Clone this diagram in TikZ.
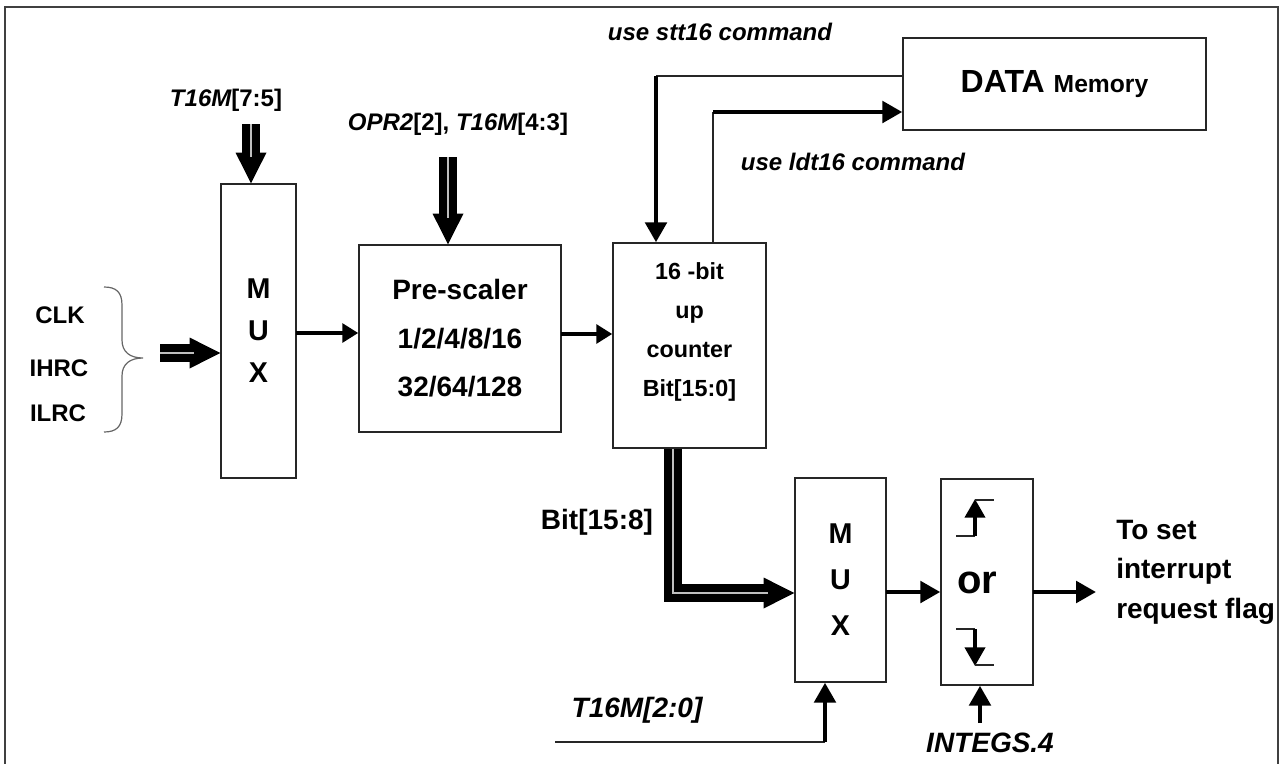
\documentclass[tikz,border=0pt]{standalone}
\usepackage{fontspec}
\setmainfont{Liberation Sans}
\usetikzlibrary{arrows.meta}
\begin{document}
\begin{tikzpicture}[x=0.75pt,y=-0.75pt,
  box/.style={draw=black!85, line width=1.1pt, rectangle, inner sep=0pt},
  lbl/.style={inner sep=0pt, font=\bfseries\fontsize{18}{20}\selectfont},
  biglbl/.style={inner sep=0pt, font=\bfseries\fontsize{21}{24}\selectfont},
  thinln/.style={draw=black!85, line width=1.1pt},
  thickarr/.style={line width=3.4pt, -{Triangle[length=15pt,width=16pt]}},
  smallarr/.style={line width=3.4pt, -{Triangle[length=12pt,width=14pt]}},
  dblshaft/.style={line width=6pt, double=black!25, double distance=1.6pt, shorten >=20pt, line join=miter},
  dbltip/.style={line width=1pt, -{Triangle[length=23pt,width=23pt]}},
]
\useasboundingbox (0,0) rectangle (1282,764);
% frame
\draw[line width=1.5pt, draw=black!75] (5,770) -- (5,7) -- (1278,7) -- (1278,770);

% boxes
\node[box, minimum width=56.25pt, minimum height=220.5pt, align=center,
      font=\bfseries\fontsize{21.5}{31.5}\selectfont] (mux1) at (258.5,331) {M\\U\\X};
\node[box, minimum width=151.5pt, minimum height=140.25pt, align=center,
      font=\bfseries\fontsize{21}{36.4}\selectfont] (pre) at (460,338.5) {Pre-scaler\\1/2/4/8/16\\32/64/128};
\node[box, minimum width=114.75pt, minimum height=153.75pt] (ctr) at (689.5,345.5) {};
\node[inner sep=0pt, align=center, font=\bfseries\fontsize{17.5}{29.25}\selectfont] (ctrtxt) at (689.5,332) {16 -bit\\up\\counter\\Bit[15:0]};
\node[box, minimum width=227.25pt, minimum height=69pt] (data) at (1054.5,84)
  {\bfseries\fontsize{24}{26}\selectfont DATA {\fontsize{18.5}{20}\selectfont Memory}};
\node[box, minimum width=68.25pt, minimum height=153pt, align=center,
      font=\bfseries\fontsize{21.5}{34.5}\selectfont] (mux2) at (840.5,580) {M\\U\\X};
\node[box, minimum width=69pt, minimum height=154.5pt] (orb) at (987,582) {};
\node[inner sep=0pt, font=\bfseries\fontsize{30}{32}\selectfont] (ortxt) at (977,583) {or};

% labels
\node[lbl] (t16a) at (226,100) {\itshape T16M\upshape[7:5]};
\node[lbl] (opr) at (458,124) {\itshape OPR2\upshape[2], \itshape T16M\upshape[4:3]};
\node[lbl] (stt) at (720,32) {\itshape use stt16 command};
\node[lbl] (ldt) at (853,162) {\itshape use ldt16 command};
\node[lbl] (clk) at (60,315) {CLK};
\node[lbl] (ihrc) at (59,368) {IHRC};
\node[lbl] (ilrc) at (58,413) {ILRC};
\node[biglbl] (bit158) at (597,522) {Bit[15:8]};
\node[biglbl] (t16b) at (637,710) {\itshape T16M[2:0]};
\node[biglbl] (integs) at (990,743) {\itshape INTEGS.4};
\node[biglbl, anchor=west, align=left, font=\bfseries\fontsize{21}{29.6}\selectfont] (outtxt) at (1116,572) {To set\\interrupt\\request flag};

% brace
\draw[line width=0.9pt, draw=black!60] (104,287) .. controls (116,287) and (122,292) .. (122,305) -- (122,340)
  .. controls (122,352) and (130,358) .. (143,358) .. controls (130,358) and (122,364) .. (122,376) -- (122,414)
  .. controls (122,427) and (116,432) .. (104,432);

% double arrows
\coordinate (a1) at (251,124);
\draw[dbltip] (a1) -- (a1 |- mux1.north);
\draw[dblshaft] (a1) -- (a1 |- mux1.north);
\coordinate (a2) at (448,157);
\draw[dbltip] (a2) -- (a2 |- pre.north);
\draw[dblshaft] (a2) -- (a2 |- pre.north);
\coordinate (a3) at (160,353);
\draw[dbltip] (a3) -- (a3 -| mux1.west);
\draw[dblshaft] (a3) -- (a3 -| mux1.west);
\coordinate (bend) at (673,593);
\draw[dbltip] (ctr.south -| bend) -- (bend) -- (bend -| mux2.west);
\draw[dblshaft] (ctr.south -| bend) -- (bend) -- (bend -| mux2.west);

% single arrows
\coordinate (m1o) at (296,333);
\draw[smallarr] (m1o) -- (m1o -| pre.west);
\coordinate (preo) at (561,334);
\draw[smallarr] (preo) -- (preo -| ctr.west);
\coordinate (sttc) at (656,76);
\draw[thinln] (sttc -| data.west) -- (sttc);
\draw[thickarr] (sttc) -- (sttc |- ctr.north);
\coordinate (ldtc) at (713,112);
\draw[thinln] (ldtc |- ctr.north) -- (ldtc);
\draw[thickarr] (ldtc) -- (ldtc -| data.west);
\coordinate (m2o) at (886,592);
\draw[thickarr] (m2o) -- (m2o -| orb.west);
\coordinate (oro) at (1033,592);
\coordinate (outend) at (1096,592);
\draw[thickarr] (oro) -- (outend);
\coordinate (selstart) at (555,742);
\coordinate (selc) at (825,742);
\draw[thinln] (selstart) -- (selc);
\draw[thickarr] (selc) -- (selc |- mux2.south);
\coordinate (intc) at (980,723);
\draw[thickarr] (intc) -- (intc |- orb.south);

% edge symbols
\draw[thinln] (956,536) -- (975,536);
\draw[line width=3pt, -{Triangle[length=14pt,width=15pt]}] (975,536) -- (975,499);
\draw[thinln] (975,500) -- (994,500);
\draw[thinln] (956,629) -- (975,629);
\draw[line width=3pt, -{Triangle[length=14pt,width=15pt]}] (975,629) -- (975,666);
\draw[thinln] (975,665) -- (994,665);
\end{tikzpicture}
\end{document}
